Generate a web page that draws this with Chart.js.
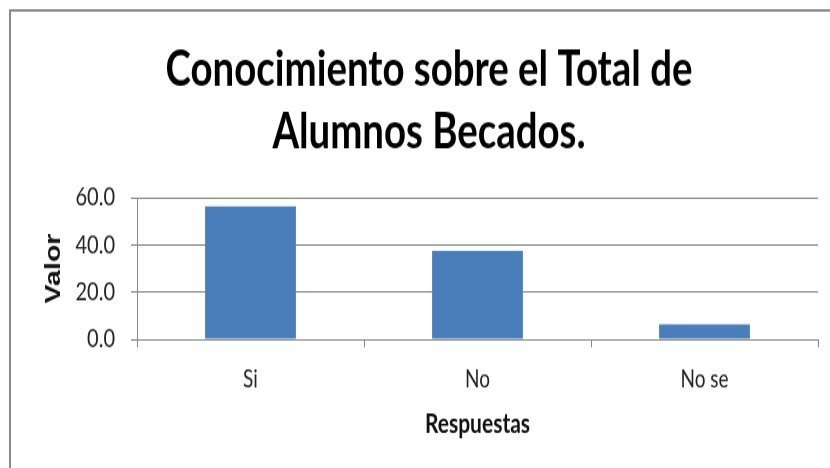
<!DOCTYPE html>
<html>
<head>
<meta charset="utf-8">
<script src="https://cdn.jsdelivr.net/npm/chart.js@4.4.1/dist/chart.umd.min.js"></script>
<style>
  body { margin: 0; background: #fff; }
  #outer { width: 830px; height: 468px; position: relative; }
  /* the reference picture is stretched vertically, so the chart is drawn short and scaled */
  #wrap { position: absolute; left: 0; top: 0; width: 830px; height: 360px; transform: scaleY(1.3); transform-origin: 0 0; }
</style>
</head>
<body>
<div id="outer"><div id="wrap"><canvas id="chart" width="830" height="360"></canvas></div></div>
<script>
const categories = ['Si', 'No', 'No se'];
const values = [56.3, 37.5, 6.3];
const yTicks = [0, 20, 40, 60];
const titleLines = ['Conocimiento sobre el Total de', 'Alumnos Becados.'];

const font = 'Lato, "Open Sans", sans-serif';

// white background + grey outer frame
const frame = {
  id: 'frame',
  beforeDraw(chart) {
    const c = chart.ctx;
    c.save();
    c.fillStyle = '#fff';
    c.fillRect(0, 0, chart.width, chart.height);
    c.strokeStyle = '#8a8a8a';
    c.lineWidth = 2;
    c.strokeRect(10, 8, chart.width, chart.height);
    c.restore();
  }
};

const ctx = document.getElementById('chart').getContext('2d');
new Chart(ctx, {
  type: 'bar',
  data: {
    labels: categories,
    datasets: [{
      data: values,
      backgroundColor: '#4a7ebb',
      categoryPercentage: 1,
      barPercentage: 0.4
    }]
  },
  options: {
    responsive: false,
    animation: false,
    layout: { padding: { left: 40, right: 12, top: 30, bottom: 21 } },
    plugins: {
      legend: { display: false },
      tooltip: { enabled: false },
      title: {
        display: true,
        text: titleLines,
        color: '#000',
        font: { family: font, size: 38.4, weight: 'bold', lineHeight: 1.25 },
        padding: { top: 0, bottom: 26 }
      }
    },
    scales: {
      x: {
        afterFit: axis => { axis.height = 78; },
        grid: { display: true, drawOnChartArea: false, offset: true, color: '#888', tickLength: 6 },
        border: { color: '#888' },
        ticks: { color: '#222', font: { family: font, size: 19 }, padding: 13 },
        title: { display: true, text: 'Respuestas', color: '#111', font: { family: font, size: 21, weight: 'bold' }, padding: { top: 8, bottom: 0 } }
      },
      y: {
        min: yTicks[0], max: yTicks[yTicks.length - 1],
        afterFit: axis => { axis.width = 97; },
        afterBuildTicks: axis => { axis.ticks = yTicks.map(v => ({ value: v })); },
        ticks: { color: '#222', font: { family: font, size: 20 }, padding: 16,
          callback: v => v.toFixed(1) },
        grid: { color: '#7a7a7a', tickLength: 6 },
        border: { color: '#888' },
        title: { display: true, text: 'Valor', color: '#111', font: { family: '"Liberation Sans", Arial, sans-serif', size: 22, weight: 'bold' }, padding: { top: 1, bottom: 0 } }
      }
    }
  },
  plugins: [frame]
});
</script>
</body>
</html>
